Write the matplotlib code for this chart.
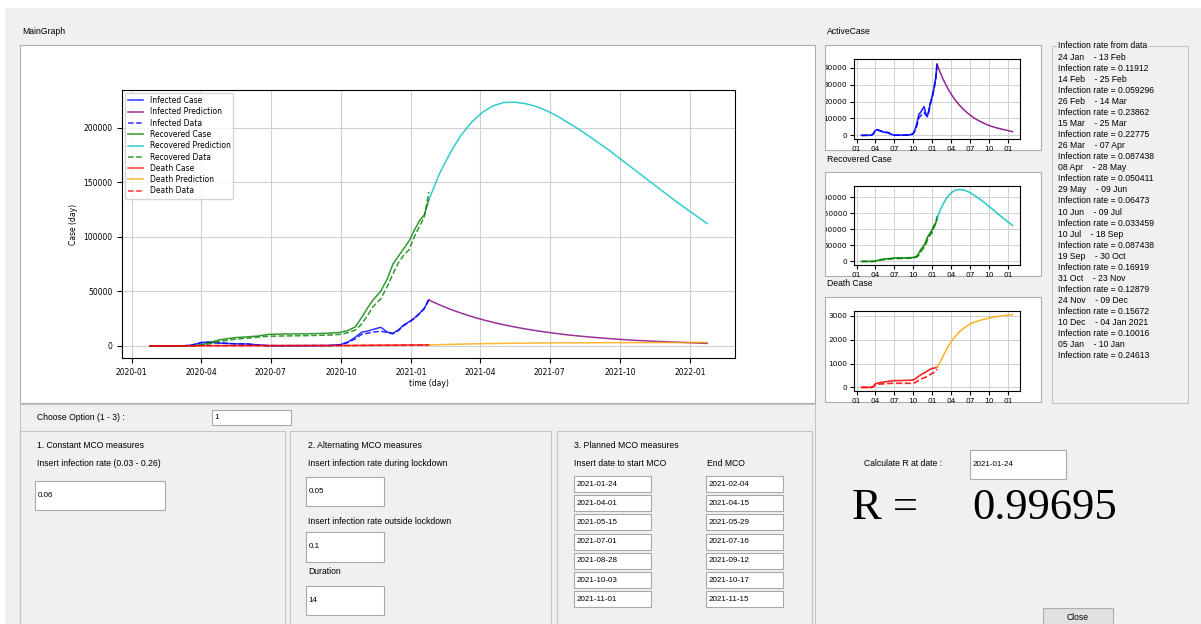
import matplotlib
matplotlib.use('Agg')
import matplotlib.pyplot as plt
import matplotlib.dates as mdates
from matplotlib.patches import Rectangle
from matplotlib.transforms import Bbox
import pandas as pd

W, H = 1201, 624
GUI_FONT = 'Liberation Sans'

# observed data (2020-01-25 .. 2021-01-24)
obs_dates = ['2020-01-25', '2020-03-10', '2020-03-20', '2020-04-01', '2020-04-10',
             '2020-04-25', '2020-05-15', '2020-06-01', '2020-06-15', '2020-06-28',
             '2020-07-15', '2020-08-15', '2020-09-15', '2020-09-30', '2020-10-10',
             '2020-10-20', '2020-10-28', '2020-11-05', '2020-11-12', '2020-11-22',
             '2020-12-01', '2020-12-08', '2020-12-15', '2020-12-22', '2020-12-29',
             '2021-01-05', '2021-01-12', '2021-01-18', '2021-01-24']
infected_case = [0, 80, 700, 3000, 3400, 2500, 1800, 1700, 800, 150,
                 100, 150, 300, 1000, 3500, 8000, 12500, 13500, 15000, 17000,
                 12500, 11500, 14500, 19000, 22000, 25500, 30000, 34500, 42000]
infected_data = [0, 60, 600, 2800, 3300, 2700, 1900, 1600, 700, 120,
                 100, 150, 250, 800, 3000, 6500, 10500, 11500, 12500, 13500,
                 12000, 11000, 14000, 18500, 21500, 25000, 29500, 34000, 43000]
recovered_case = [0, 20, 100, 900, 2500, 5500, 7500, 8200, 9000, 10500,
                  10800, 11000, 11500, 12300, 14000, 17500, 26000, 35000, 42000, 50000,
                  62000, 75000, 82000, 89000, 96000, 106000, 115000, 120000, 134000]
recovered_data = [0, 10, 50, 500, 1500, 4000, 6000, 7000, 8000, 8800,
                  9000, 9300, 9800, 10500, 12000, 14500, 20000, 28000, 36000, 43000,
                  55000, 66000, 76000, 83000, 88000, 100000, 110000, 118000, 141000]
death_case = [0, 0, 20, 150, 180, 200, 230, 250, 270, 280,
              280, 290, 300, 310, 350, 420, 470, 520, 560, 600,
              650, 680, 720, 760, 790, 800, 810, 830, 840]
death_data = [0, 0, 10, 100, 130, 140, 150, 160, 170, 170,
              170, 170, 170, 170, 200, 250, 300, 340, 370, 400,
              430, 460, 500, 540, 580, 600, 640, 680, 760]

# prediction, every 14 days from 2021-01-24
pred_dates = pd.date_range('2021-01-24', periods=27, freq='14D')
infected_pred = [42000, 37500, 33500, 30000, 26800, 24000, 21500, 19300, 17300, 15500,
                 13900, 12500, 11200, 10000, 9000, 8100, 7300, 6500, 5800, 5200,
                 4700, 4200, 3800, 3400, 3000, 2600, 2200]
recovered_pred = [134000, 158000, 177000, 193000, 205000, 214000, 220000, 223000, 223300, 222000,
                  219500, 215500, 210500, 204500, 198500, 192000, 185000, 178000, 170500, 163000,
                  155500, 148000, 140500, 133000, 126000, 119000, 112000]
death_pred = [840, 1050, 1300, 1530, 1750, 1940, 2100, 2240, 2360, 2460,
              2550, 2630, 2700, 2740, 2780, 2820, 2850, 2880, 2910, 2935,
              2955, 2975, 2990, 3005, 3020, 3035, 3050]

# infection rate text panel
rate_start = ['24 Jan', '14 Feb', '26 Feb', '15 Mar', '26 Mar', '08 Apr', '29 May',
              '10 Jun', '10 Jul', '19 Sep', '31 Oct', '24 Nov', '10 Dec', '05 Jan']
rate_end = ['13 Feb', '25 Feb', '14 Mar', '25 Mar', '07 Apr', '28 May', '09 Jun',
            '09 Jul', '18 Sep', '30 Oct', '23 Nov', '09 Dec', '04 Jan 2021', '10 Jan']
rates = ['0.11912', '0.059296', '0.23862', '0.22775', '0.087438', '0.050411', '0.06473',
         '0.033459', '0.087438', '0.16919', '0.12879', '0.15672', '0.10016', '0.24613']

mco_start = ['2021-01-24', '2021-04-01', '2021-05-15', '2021-07-01', '2021-08-28', '2021-10-03', '2021-11-01']
mco_end = ['2021-02-04', '2021-04-15', '2021-05-29', '2021-07-16', '2021-09-12', '2021-10-17', '2021-11-15']

d_obs = pd.to_datetime(obs_dates)

fig = plt.figure(figsize=(W / 100, H / 100), dpi=100, facecolor='#f0f0f0')
bg = fig.add_axes([0, 0, 1, 1])
bg.set_xlim(0, W)
bg.set_ylim(H, 0)
bg.axis('off')
bg.set_zorder(-1)


def frame(x0, y0, x1, y1, fc='none', ec='#c4c4c4', lw=0.8):
    bg.add_patch(Rectangle((x0, y0), x1 - x0, y1 - y0, facecolor=fc, edgecolor=ec, lw=lw))


def label(x, y, s, size=6.2, **kw):
    bg.text(x, y, s, fontsize=size, family=GUI_FONT, va='center', ha='left', **kw)


def entry(x0, y0, x1, y1, s):
    frame(x0, y0, x1, y1, fc='white', ec='#a8a8a8')
    label(x0 + 2.5, (y0 + y1) / 2, s, size=5.8)


def px_axes(x0, y0, x1, y1):
    return fig.add_axes([x0 / W, 1 - y1 / H, (x1 - x0) / W, (y1 - y0) / H])


# window chrome
frame(0, 0, W, 8, fc='white', ec='none')
frame(0, 0, 5, H, fc='white', ec='none')
label(22, 32, 'MainGraph')
frame(20, 45, 815, 403, fc='white', ec='#adadad')

# main graph
ax = px_axes(122, 90, 735, 358)
ax.plot(d_obs, infected_case, color='blue', lw=1.1, alpha=0.8, label='Infected Case')
ax.plot(pred_dates, infected_pred, color='purple', lw=1.1, alpha=0.8, label='Infected Prediction')
ax.plot(d_obs, infected_data, '--', color='blue', lw=1.1, alpha=0.8, label='Infected Data')
ax.plot(d_obs, recovered_case, color='green', lw=1.1, alpha=0.8, label='Recovered Case')
ax.plot(pred_dates, recovered_pred, color='c', lw=1.1, alpha=0.8, label='Recovered Prediction')
ax.plot(d_obs, recovered_data, '--', color='green', lw=1.1, alpha=0.8, label='Recovered Data')
ax.plot(d_obs, death_case, color='red', lw=1.1, alpha=0.8, label='Death Case')
ax.plot(pred_dates, death_pred, color='orange', lw=1.1, alpha=0.8, label='Death Prediction')
ax.plot(d_obs, death_data, '--', color='red', lw=1.1, alpha=0.8, label='Death Data')
ax.xaxis.set_major_locator(mdates.MonthLocator(bymonth=[1, 4, 7, 10]))
ax.xaxis.set_major_formatter(mdates.DateFormatter('%Y-%m'))
ax.tick_params(labelsize=5.5)
ax.set_xlabel('time (day)', fontsize=5.5, labelpad=2)
ax.set_ylabel('Case (day)', fontsize=5.5)
ax.grid(True, color='#d0d0d0', lw=0.8)
ax.legend(loc='upper left', fontsize=5.5, labelspacing=0.3, borderaxespad=0.4)

# small charts on the right
small_specs = [
    ('ActiveCase', 45, 150, [(infected_case, 'blue', '-'), (infected_data, 'blue', '--')],
     (infected_pred, 'purple'), [0, 10000, 20000, 30000, 40000]),
    ('Recovered Case', 172, 276, [(recovered_case, 'green', '-'), (recovered_data, 'green', '--')],
     (recovered_pred, 'c'), [0, 50000, 100000, 150000, 200000]),
    ('Death Case', 297, 402, [(death_case, 'red', '-'), (death_data, 'red', '--')],
     (death_pred, 'orange'), [0, 1000, 2000, 3000]),
]
small_axes = []
for title, y0, y1, obs, pred, yticks in small_specs:
    label(827, y0 - 13, title)
    frame(825, y0, 1041, y1, fc='white', ec='#adadad')
    sax = px_axes(854, y0 + 14, 1020, y1 - 11)
    for vals, col, ls in obs:
        sax.plot(d_obs, vals, ls, color=col, lw=1.2, alpha=0.85)
    sax.plot(pred_dates, pred[0], color=pred[1], lw=1.1, alpha=0.85)
    sax.set_yticks(yticks)
    sax.xaxis.set_major_locator(mdates.MonthLocator(bymonth=[1, 4, 7, 10]))
    sax.xaxis.set_major_formatter(mdates.DateFormatter('%m'))
    sax.tick_params(labelsize=5.3, length=3, pad=2)
    sax.grid(True, color='#d0d0d0', lw=0.7)
    small_axes.append((sax, y0, y1))

# infection rate list
frame(1052, 46, 1188, 403, ec='#c4c4c4')
rate_lines = ['Infection rate from data']
for s, e, r in zip(rate_start, rate_end, rates):
    rate_lines.append(f'{s}    - {e}')
    rate_lines.append(f'Infection rate = {r}')
for i, line in enumerate(rate_lines):
    kw = {'bbox': dict(facecolor='#f0f0f0', edgecolor='none', pad=0.5)} if i == 0 else {}
    label(1058, 46 + 11.07 * i, line, **kw)

# bottom option panels
frame(20, 404, 815, 640, ec='#c4c4c4')
label(37, 417, 'Choose Option (1 - 3) :')
entry(212, 410, 291, 425, '1')
frame(20, 431, 285, 640)
frame(290, 431, 551, 640)
frame(557, 431, 812, 640)

label(37, 446, '1. Constant MCO measures')
label(37, 464, 'Insert infection rate (0.03 - 0.26)')
entry(35, 481, 165, 510, '0.06')

label(308, 446, '2. Alternating MCO measures')
label(308, 464, 'Insert infection rate during lockdown')
entry(306, 477, 384, 506, '0.05')
label(308, 521, 'Insert infection rate outside lockdown')
entry(306, 532, 384, 562, '0.1')
label(308, 572, 'Duration')
entry(306, 586, 384, 615, '14')

label(574, 446, '3. Planned MCO measures')
label(574, 464, 'Insert date to start MCO')
label(707, 464, 'End MCO')
for i, (s, e) in enumerate(zip(mco_start, mco_end)):
    yc = 484 + 19.2 * i
    entry(574, yc - 8, 651, yc + 8, s)
    entry(706, yc - 8, 783, yc + 8, e)

label(864, 464, 'Calculate R at date :')
entry(970, 450, 1066, 479, '2021-01-24')
bg.text(852, 508, 'R =', fontsize=32, family='Liberation Serif', va='center', ha='left')
bg.text(972, 508, '0.99695', fontsize=32, family='Liberation Serif', va='center', ha='left')

frame(1043, 608, 1113, 630, fc='#e1e1e1', ec='#adadad')
bg.text(1078, 617, 'Close', fontsize=6.2, family=GUI_FONT, va='center', ha='center')

# clip the small charts' y labels at their panel border
fig.canvas.draw()
for sax, y0, y1 in small_axes:
    clip = Bbox.from_extents(826, H - y1, 1041, H - y0)
    for lbl in sax.get_yticklabels():
        lbl.set_clip_box(clip)
        lbl.set_clip_on(True)

fig.savefig('out.png', dpi=100, facecolor=fig.get_facecolor())
